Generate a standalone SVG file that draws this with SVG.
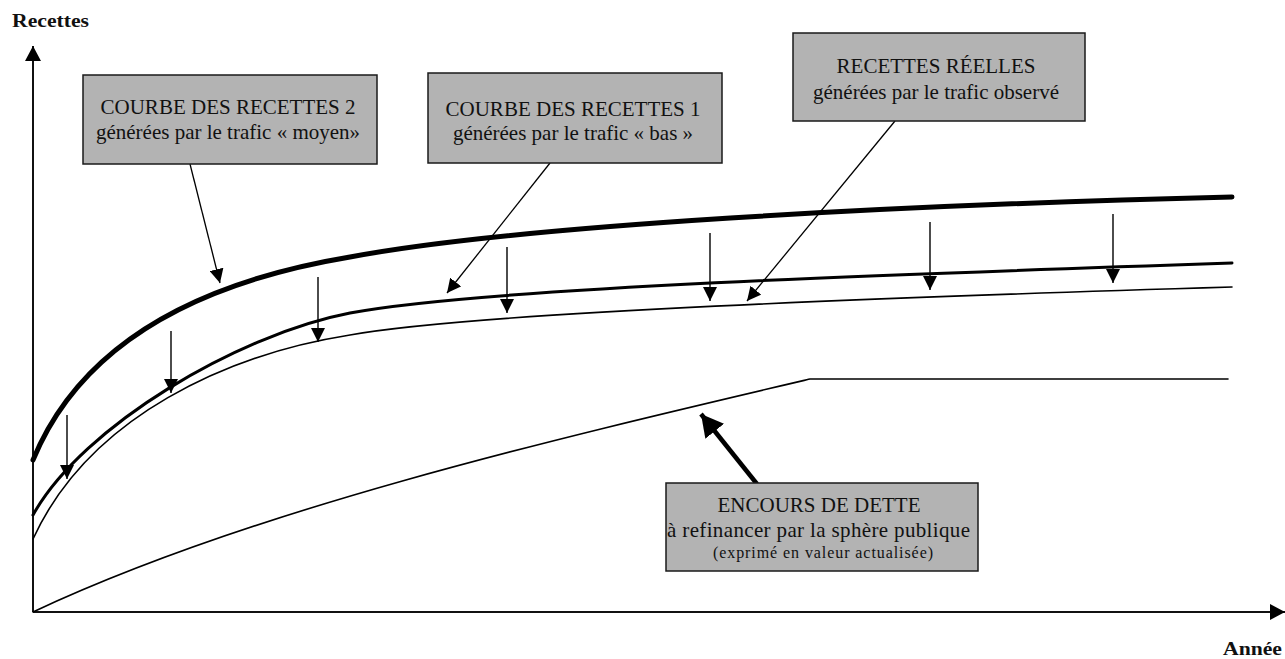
<svg xmlns="http://www.w3.org/2000/svg" width="1285" height="659" viewBox="0 0 1285 659">
  <style>
    .box { fill: #b3b3b3; stroke: #1a1a1a; stroke-width: 1.5; }
    .lbl { font-family: "Liberation Serif", "Times New Roman", serif; font-size: 21px; fill: #111; text-anchor: middle; }
    .small { font-size: 16px; }
    .axis-title { font-family: "Liberation Serif", "Times New Roman", serif; font-size: 19px; font-weight: bold; fill: #111; }
    .axis { stroke: #111; stroke-width: 2; fill: none; }
    .curve { fill: none; stroke: #000; stroke-linecap: round; stroke-linejoin: round; }
    .ptr { stroke: #000; stroke-width: 1.3; fill: none; }
    .drop { stroke: #000; stroke-width: 1.4; fill: none; marker-end: url(#head); }
  </style>
  <defs>
    <marker id="head" markerUnits="userSpaceOnUse" markerWidth="14" markerHeight="14" refX="14" refY="7" orient="auto">
      <path d="M0,0 L14,7 L0,14 z" fill="#000"/>
    </marker>
    <marker id="axisHead" markerUnits="userSpaceOnUse" markerWidth="15" markerHeight="16" refX="15" refY="8" orient="auto">
      <path d="M0,0 L15,8 L0,16 z" fill="#000"/>
    </marker>
    <marker id="bigHead" markerUnits="userSpaceOnUse" markerWidth="22" markerHeight="24" refX="22" refY="12" orient="auto">
      <path d="M0,0 L22,12 L0,24 z" fill="#000"/>
    </marker>
  </defs>

  <rect width="1285" height="659" fill="#fff"/>

  <!-- axes -->
  <g id="axes">
    <line class="axis" x1="33" y1="612" x2="33" y2="46" marker-end="url(#axisHead)"/>
    <line class="axis" x1="33" y1="612" x2="1285" y2="612" marker-end="url(#axisHead)"/>
    <text class="axis-title" x="12" y="27" textLength="77" lengthAdjust="spacingAndGlyphs">Recettes</text>
    <text class="axis-title" x="1223" y="655" textLength="59" lengthAdjust="spacingAndGlyphs">Année</text>
  </g>

  <!-- revenue and debt curves -->
  <g id="curves">
    <path id="curve-moyen" class="curve" stroke-width="5" d="M33,460 C88,326 230,277 350,257 C520,225 900,205 1232,197"/>
    <path id="curve-bas" class="curve" stroke-width="3" d="M33,515 C83,425 240,334 350,313 C480,288 900,274 1232,263"/>
    <path id="curve-reel" class="curve" stroke-width="1.6" d="M33,539 C90,415 230,354 350,335 C480,312 900,297 1232,287"/>
    <path id="curve-dette" class="curve" stroke-width="1.6" d="M33,612 C250,510 550,440 810,379 L1228,379"/>
  </g>

  <!-- connectors -->
  <g id="connectors">
    <line class="ptr" x1="190" y1="164" x2="220" y2="283" marker-end="url(#head)"/>
    <line class="ptr" x1="550" y1="163" x2="447" y2="293" marker-end="url(#head)"/>
    <line class="ptr" x1="895" y1="121" x2="747" y2="301" marker-end="url(#head)"/>
    <line stroke="#000" stroke-width="4.5" x1="757" y1="484" x2="701" y2="414" marker-end="url(#bigHead)"/>

    <line class="drop" x1="67" y1="415" x2="67" y2="479"/>
    <line class="drop" x1="171" y1="331" x2="171" y2="393"/>
    <line class="drop" x1="318" y1="277" x2="318" y2="342"/>
    <line class="drop" x1="507" y1="247" x2="507" y2="313"/>
    <line class="drop" x1="710" y1="233" x2="710" y2="301"/>
    <line class="drop" x1="930" y1="222" x2="930" y2="290"/>
    <line class="drop" x1="1113" y1="214" x2="1113" y2="283"/>
  </g>

  <!-- labels -->
  <g id="label-courbe-2">
    <rect class="box" x="83" y="75" width="294" height="89"/>
    <text class="lbl" x="228" y="114">COURBE DES RECETTES 2</text>
    <text class="lbl" x="228" y="139">générées par le trafic « moyen»</text>
  </g>

  <g id="label-courbe-1">
    <rect class="box" x="428" y="73" width="294" height="90"/>
    <text class="lbl" x="573" y="116">COURBE DES RECETTES 1</text>
    <text class="lbl" x="573" y="140">générées par le trafic « bas »</text>
  </g>

  <g id="label-reelles">
    <rect class="box" x="793" y="33" width="292" height="88"/>
    <text class="lbl" x="936" y="73">RECETTES RÉELLES</text>
    <text class="lbl" x="936" y="99">générées par le trafic observé</text>
  </g>

  <g id="label-dette">
    <rect class="box" x="666" y="483" width="312" height="88"/>
    <text class="lbl" x="819" y="512">ENCOURS DE DETTE</text>
    <text class="lbl" x="818.5" y="537" textLength="303" lengthAdjust="spacing">à refinancer par la sphère publique</text>
    <text class="lbl small" x="823" y="558" textLength="220" lengthAdjust="spacing">(exprimé en valeur actualisée)</text>
  </g>
</svg>
